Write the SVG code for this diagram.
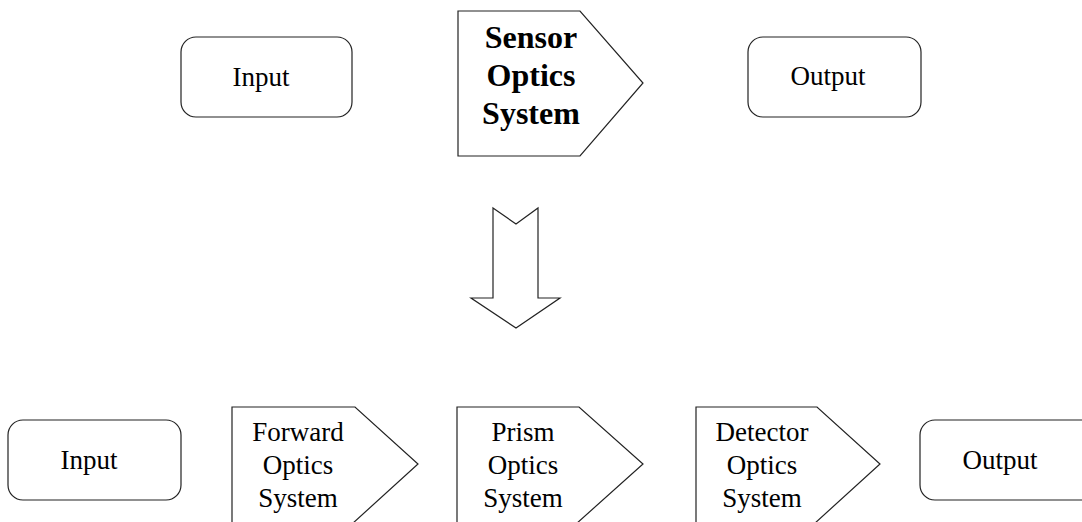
<svg xmlns="http://www.w3.org/2000/svg" width="1082" height="522" viewBox="0 0 1082 522">
  <style>
    .box { fill: #fff; stroke: #222; stroke-width: 1.2; }
    .shape { fill: #fff; stroke: #222; stroke-width: 1.2; stroke-linejoin: miter; }
    .lbl { font-family: "Liberation Serif", "Times New Roman", serif; font-size: 27px; fill: #000; text-anchor: middle; }
    .bold { font-weight: bold; font-size: 32px; }
  </style>

  <!-- top row: single system -->
  <g id="top-input">
    <rect class="box" x="181" y="37" width="171" height="80" rx="15" ry="15"/>
    <text class="lbl" x="261" y="86">Input</text>
  </g>
  <g id="sensor-optics">
    <polygon class="shape" points="458,11 580,11 643,83 580,156 458,156"/>
    <text class="lbl bold" x="531" y="48">Sensor</text>
    <text class="lbl bold" x="531" y="86">Optics</text>
    <text class="lbl bold" x="531" y="124">System</text>
  </g>
  <g id="top-output">
    <rect class="box" x="748" y="37" width="173" height="80" rx="15" ry="15"/>
    <text class="lbl" x="828" y="85">Output</text>
  </g>

  <!-- decomposition arrow -->
  <g id="connectors">
    <polygon class="shape" points="493,208 516,224 538,208 538,298 560,298 516,328 471,298 493,298"/>
  </g>

  <!-- bottom row: subsystems (lower edges run past the page) -->
  <g id="bottom-input">
    <rect class="box" x="8" y="420" width="173" height="80" rx="15" ry="15"/>
    <text class="lbl" x="89" y="469">Input</text>
  </g>
  <g id="forward-optics">
    <polygon class="shape" points="232,407 355,407 418,464 352,524 232,524"/>
    <text class="lbl" x="298" y="441">Forward</text>
    <text class="lbl" x="298" y="474">Optics</text>
    <text class="lbl" x="298" y="507">System</text>
  </g>
  <g id="prism-optics">
    <polygon class="shape" points="457,407 579,407 643,464 576,524 457,524"/>
    <text class="lbl" x="523" y="441">Prism</text>
    <text class="lbl" x="523" y="474">Optics</text>
    <text class="lbl" x="523" y="507">System</text>
  </g>
  <g id="detector-optics">
    <polygon class="shape" points="696,407 817,407 880,464 814,524 696,524"/>
    <text class="lbl" x="762" y="441">Detector</text>
    <text class="lbl" x="762" y="474">Optics</text>
    <text class="lbl" x="762" y="507">System</text>
  </g>
  <g id="bottom-output">
    <rect class="box" x="920" y="420" width="185" height="80" rx="15" ry="15"/>
    <text class="lbl" x="1000" y="469">Output</text>
  </g>
</svg>
